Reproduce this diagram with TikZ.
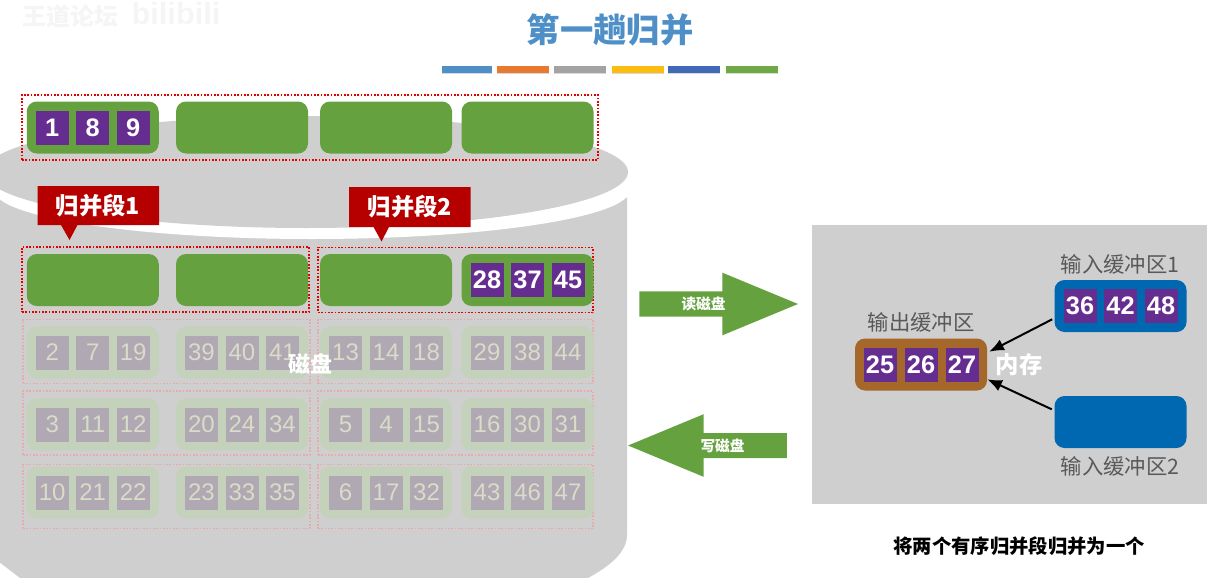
\documentclass[tikz,border=0pt]{standalone}
\usepackage{fontspec}
\setmainfont{Noto Sans CJK SC}
\newfontfamily\digitfont{Liberation Sans}
\usepackage{tikz}
\usetikzlibrary{shapes.arrows, arrows.meta, positioning, math, calc}
\definecolor{diskGray}{HTML}{CFCFCF}
\definecolor{blockGreen}{HTML}{66A140}
\definecolor{cellPurple}{HTML}{662D91}
\definecolor{bufferBlue}{HTML}{0068B0}
\definecolor{bufferBrown}{HTML}{A5682A}
\definecolor{calloutRed}{HTML}{B60000}
\definecolor{titleBlue}{HTML}{4E8FC7}
\definecolor{fadeGreen}{HTML}{C4D2BB}
\definecolor{fadeCell}{HTML}{B0A8B2}
\definecolor{fadeText}{HTML}{D8DCC8}
\definecolor{fadeDot}{HTML}{E8ABAB}
\definecolor{barBlue}{HTML}{4E8FC7}
\definecolor{barOrange}{HTML}{E9792F}
\definecolor{barGray}{HTML}{A3A3A3}
\definecolor{barYellow}{HTML}{FDBD10}
\definecolor{barNavy}{HTML}{4169B5}
\definecolor{barGreen}{HTML}{6EA945}

\begin{document}
\begin{tikzpicture}[x=0.75pt, y=-0.75pt]
			\tikzmath{
				\blockW      		 = 99;     %block width
				\blockH      		 = 39;     %block height
				\cellW       		 = 24.75;  %cell width
				\cellH       		 = 25.5;   %cell height
			}
			\tikzstyle{Block} = [
				minimum width=\blockW pt,
				minimum height=\blockH pt,
				inner sep=0,
				fill=blockGreen,
				rounded corners=7.5pt
			]
			\tikzstyle{FadeBlock} = [Block, fill=fadeGreen]
			\tikzstyle{Cell} = [
				minimum width=\cellW pt,
				minimum height=\cellH pt,
				inner sep=0,
				fill=cellPurple,
				text=white,
				font=\digitfont\bfseries\fontsize{19}{20}\selectfont
			]
			\tikzstyle{FadeCell} = [Cell, fill=fadeCell, text=fadeText, font=\digitfont\fontsize{18}{20}\selectfont]
			\tikzstyle{SegBox} = [
				minimum height=48.75pt,
				inner sep=0,
				draw=red!90!black,
				line width=1.2pt,
				dash pattern=on 1.25pt off 1.25pt
			]
			\tikzstyle{FadeBox} = [SegBox, draw=fadeDot, line width=0.9pt, minimum height=48pt]
			\tikzstyle{Buffer} = [Block, fill=bufferBlue]
			\tikzstyle{Caption} = [text=black!65, font=\fontsize{16}{18}\selectfont]
			\tikzstyle{Callout} = [text=white, font=\bfseries\fontsize{17.5}{20}\selectfont]
			\tikzstyle{Bar} = [preaction={fill=black!15, transform canvas={yshift=-1.2pt}}]
			\tikzstyle{BigArrow} = [
				single arrow,
				fill=blockGreen,
				inner xsep=0,
				inner ysep=3.5pt,
				minimum height=119pt,
				minimum width=47pt,
				single arrow head extend=13.5pt,
				single arrow tip angle=45,
				text=white,
				font=\bfseries\fontsize{11}{13}\selectfont
			]
			\coordinate (cellLeft) at (-40.5,0);
			\coordinate (cellRight) at (40.5,0);

			\useasboundingbox (0,0) rectangle (1207,578);
			\clip (0,0) rectangle (1207,578);

			% disk
			\fill [diskGray] (-10,197) -- (627,197) -- (627,535)
				.. controls (627,552) and (610,566) .. (588,578) -- (20,578) -- (-10,555) -- cycle;
			\fill [white] (312,190) ellipse [x radius=318, y radius=49];
			\fill [diskGray] (306,172) ellipse [x radius=322, y radius=56];

			% title
			\node (wmA) [text=black!4, font=\bfseries\fontsize{18}{20}\selectfont] at (70,16) {王道论坛};
			\node (wmB) [text=black!4, font=\digitfont\bfseries\fontsize{23}{26}\selectfont] at (176,14) {bilibili};
			\node (title) [text=titleBlue, font=\bfseries\fontsize{25}{28}\selectfont] at (610,30) {第一趟归并};
			\fill [barBlue, Bar] (442,66) rectangle (492,72.5);
			\fill [barOrange, Bar] (497,66) rectangle (548.5,72.5);
			\fill [barGray, Bar] (554,66) rectangle (606,72.5);
			\fill [barYellow, Bar] (612,66) rectangle (664,72.5);
			\fill [barNavy, Bar] (668,66) rectangle (720,72.5);
			\fill [barGreen, Bar] (726,66) rectangle (778,72.5);

			% dotted segments
			\node (segTop) [SegBox, minimum width=432pt] at (310,127.5) {};
			\node (segA) [SegBox, minimum width=215.25pt] at (165.5,279.5) {};
			\node (segB) [SegBox, minimum width=206.25pt] at (455.5,280) {};
			\node (seg3A) [FadeBox, minimum width=215.25pt] at (166.5,351.5) {};
			\node (seg3B) [FadeBox, minimum width=206.25pt] at (455.5,351.5) {};
			\node (seg4A) [FadeBox, minimum width=215.25pt] at (166.5,423) {};
			\node (seg4B) [FadeBox, minimum width=206.25pt] at (455.5,423) {};
			\node (seg5A) [FadeBox, minimum width=215.25pt] at (166.5,496.5) {};
			\node (seg5B) [FadeBox, minimum width=206.25pt] at (455.5,496.5) {};

			% top row
			\node (b11) [Block] at (92.75,127.5) {};
			\node (b12) [Block] at (242,127.5) {};
			\node (b13) [Block] at (386,127.5) {};
			\node (b14) [Block] at (527.5,127.5) {};
			\node (c111) [Cell] at ($(b11) + (cellLeft)$) {1};
			\node (c112) [Cell] at (b11) {8};
			\node (c113) [Cell] at ($(b11) + (cellRight)$) {9};

			% second row
			\node (b21) [Block] at (92.75,280) {};
			\node (b22) [Block] at (242,280) {};
			\node (b23) [Block] at (386,280) {};
			\node (b24) [Block] at (527.5,280) {};
			\node (c241) [Cell] at ($(b24) + (cellLeft)$) {28};
			\node (c242) [Cell] at (b24) {37};
			\node (c243) [Cell] at ($(b24) + (cellRight)$) {45};

			% faded rows
			\node (b31) [FadeBlock] at (92.75,352.5) {};
			\node (c311) [FadeCell] at ($(b31) + (cellLeft)$) {2};
			\node (c312) [FadeCell] at (b31) {7};
			\node (c313) [FadeCell] at ($(b31) + (cellRight)$) {19};
			\node (b32) [FadeBlock] at (242,352.5) {};
			\node (c321) [FadeCell] at ($(b32) + (cellLeft)$) {39};
			\node (c322) [FadeCell] at (b32) {40};
			\node (c323) [FadeCell] at ($(b32) + (cellRight)$) {41};
			\node (b33) [FadeBlock] at (386,352.5) {};
			\node (c331) [FadeCell] at ($(b33) + (cellLeft)$) {13};
			\node (c332) [FadeCell] at (b33) {14};
			\node (c333) [FadeCell] at ($(b33) + (cellRight)$) {18};
			\node (b34) [FadeBlock] at (527.5,352.5) {};
			\node (c341) [FadeCell] at ($(b34) + (cellLeft)$) {29};
			\node (c342) [FadeCell] at (b34) {38};
			\node (c343) [FadeCell] at ($(b34) + (cellRight)$) {44};

			\node (b41) [FadeBlock] at (92.75,424.5) {};
			\node (c411) [FadeCell] at ($(b41) + (cellLeft)$) {3};
			\node (c412) [FadeCell] at (b41) {11};
			\node (c413) [FadeCell] at ($(b41) + (cellRight)$) {12};
			\node (b42) [FadeBlock] at (242,424.5) {};
			\node (c421) [FadeCell] at ($(b42) + (cellLeft)$) {20};
			\node (c422) [FadeCell] at (b42) {24};
			\node (c423) [FadeCell] at ($(b42) + (cellRight)$) {34};
			\node (b43) [FadeBlock] at (386,424.5) {};
			\node (c431) [FadeCell] at ($(b43) + (cellLeft)$) {5};
			\node (c432) [FadeCell] at (b43) {4};
			\node (c433) [FadeCell] at ($(b43) + (cellRight)$) {15};
			\node (b44) [FadeBlock] at (527.5,424.5) {};
			\node (c441) [FadeCell] at ($(b44) + (cellLeft)$) {16};
			\node (c442) [FadeCell] at (b44) {30};
			\node (c443) [FadeCell] at ($(b44) + (cellRight)$) {31};

			\node (b51) [FadeBlock] at (92.75,492.5) {};
			\node (c511) [FadeCell] at ($(b51) + (cellLeft)$) {10};
			\node (c512) [FadeCell] at (b51) {21};
			\node (c513) [FadeCell] at ($(b51) + (cellRight)$) {22};
			\node (b52) [FadeBlock] at (242,492.5) {};
			\node (c521) [FadeCell] at ($(b52) + (cellLeft)$) {23};
			\node (c522) [FadeCell] at (b52) {33};
			\node (c523) [FadeCell] at ($(b52) + (cellRight)$) {35};
			\node (b53) [FadeBlock] at (386,492.5) {};
			\node (c531) [FadeCell] at ($(b53) + (cellLeft)$) {6};
			\node (c532) [FadeCell] at (b53) {17};
			\node (c533) [FadeCell] at ($(b53) + (cellRight)$) {32};
			\node (b54) [FadeBlock] at (527.5,492.5) {};
			\node (c541) [FadeCell] at ($(b54) + (cellLeft)$) {43};
			\node (c542) [FadeCell] at (b54) {46};
			\node (c543) [FadeCell] at ($(b54) + (cellRight)$) {47};

			\node (disk) [text=white, font=\bfseries\fontsize{16.5}{18}\selectfont] at (310,364) {磁盘};

			% callouts
			\fill [calloutRed] (37.5,186) rectangle (159,225) (61,225) -- (69.5,240) -- (77.5,225) -- cycle;
			\fill [calloutRed] (349,187) rectangle (470.5,227) (373.5,227) -- (381.5,241.5) -- (389,227) -- cycle;
			\node (callA) [Callout] at (98,205.5) {归并段1};
			\node (callB) [Callout] at (410,207) {归并段2};

			% arrows between disk and memory
			\node (read) [BigArrow] at (703.5,304) {读磁盘};
			\node (write) [BigArrow, shape border rotate=180] at (722.5,445.5) {写磁盘};

			% memory
			\fill [diskGray] (812,224.5) rectangle (1207,504);
			\node (output) [Block, fill=bufferBrown] at (921,364.5) {};
			\node (inputA) [Buffer] at (1120.5,306) {};
			\node (inputB) [Buffer] at (1120.5,422) {};
			\node (c01) [Cell] at ($(output) + (-41,0)$) {25};
			\node (c02) [Cell] at (output) {26};
			\node (c03) [Cell] at ($(output) + (41,0)$) {27};
			\node (c11) [Cell] at ($(inputA) + (cellLeft)$) {36};
			\node (c12) [Cell] at (inputA) {42};
			\node (c13) [Cell] at ($(inputA) + (cellRight)$) {48};
			\node (outputText) [Caption] at (921,322.5) {输出缓冲区};
			\node (inputAText) [Caption] at (1120,264) {输入缓冲区1};
			\node (inputBText) [Caption] at (1120,466.5) {输入缓冲区2};
			\node (memory) [text=white, font=\bfseries\fontsize{17.5}{20}\selectfont] at (1019,365) {内存};
			\draw [-{Latex[length=11pt, width=9pt]}, line width=1.5pt] ($(inputA.west) + (-2,13.3)$) -- ($(output.east) + (2,-12.8)$);
			\draw [-{Latex[length=11pt, width=9pt]}, line width=1.5pt] ($(inputB.west) + (-2.5,-12.7)$) -- ($(output.east) + (0,14.8)$);

			\node (summary) [text=black, font=\bfseries\fontsize{14.5}{16}\selectfont] at (1019,546) {将两个有序归并段归并为一个};
\end{tikzpicture}
\end{document}
